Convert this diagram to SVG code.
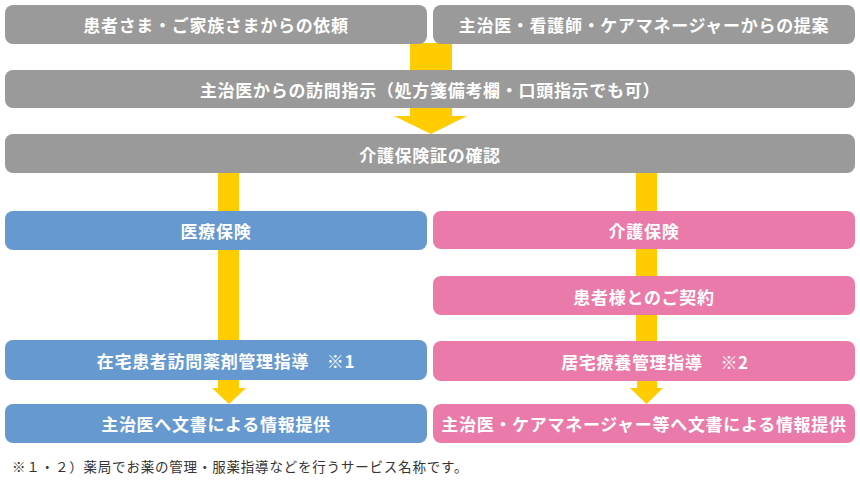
<svg xmlns="http://www.w3.org/2000/svg" width="860" height="480" viewBox="0 0 860 480">
<style>
.g{fill:#9a9a9a}
.b{fill:#6699d0}
.p{fill:#e97aa9}
.y{fill:#ffcc00}
.t{font-family:"Noto Sans CJK JP","Noto Sans",sans-serif;font-size:17px;font-weight:bold;fill:#fff;text-anchor:middle;dominant-baseline:central;letter-spacing:0.7px}
.f{font-family:"Noto Sans CJK JP","Noto Sans",sans-serif;font-size:13.5px;fill:#333;dominant-baseline:central;letter-spacing:0.8px}
</style>
<rect width="860" height="480" fill="#fff"/>
<g id="connectors">
<rect class="y" x="410" y="43" width="42" height="28"/>
<rect class="y" x="410" y="107" width="42" height="10"/>
<polygon class="y" points="394,116 467,116 431,134"/>
<rect class="y" x="218" y="172" width="21" height="40"/>
<rect class="y" x="636" y="172" width="21" height="40"/>
<rect class="y" x="218" y="249" width="21" height="92"/>
<rect class="y" x="636" y="248" width="21" height="29"/>
<rect class="y" x="636" y="314" width="21" height="28"/>
<rect class="y" x="218" y="379" width="21" height="10"/>
<polygon class="y" points="212,388 246,388 229,404"/>
<rect class="y" x="637" y="380" width="20" height="9"/>
<polygon class="y" points="630,388 663,388 646.5,404"/>
</g>
<g id="n1"><rect class="g" x="5" y="5" width="422" height="39" rx="8"/><text class="t" x="216" y="24.5">患者さま・ご家族さまからの依頼</text></g>
<g id="n2"><rect class="g" x="433" y="5" width="422" height="39" rx="8"/><text class="t" x="644" y="24.5">主治医・看護師・ケアマネージャーからの提案</text></g>
<g id="n3"><rect class="g" x="5" y="70" width="850" height="38" rx="8"/><text class="t" x="430" y="89">主治医からの訪問指示（処方箋備考欄・口頭指示でも可）</text></g>
<g id="n4"><rect class="g" x="5" y="134" width="850" height="39" rx="8"/><text class="t" x="430" y="154.5">介護保険証の確認</text></g>
<g id="n5"><rect class="b" x="5" y="211" width="422" height="39" rx="8"/><text class="t" x="216" y="230.5">医療保険</text></g>
<g id="n6"><rect class="p" x="433" y="211" width="422" height="38" rx="8"/><text class="t" x="644" y="230">介護保険</text></g>
<g id="n7"><rect class="p" x="433" y="276" width="422" height="39" rx="8"/><text class="t" x="644" y="296">患者様とのご契約</text></g>
<g id="n8"><rect class="b" x="5" y="340" width="422" height="40" rx="8"/><text class="t" x="226" y="360" xml:space="preserve">在宅患者訪問薬剤管理指導　※1</text></g>
<g id="n9"><rect class="p" x="433" y="341" width="422" height="40" rx="8"/><text class="t" x="655" y="361" xml:space="preserve">居宅療養管理指導　※2</text></g>
<g id="n10"><rect class="b" x="5" y="404" width="422" height="39" rx="8"/><text class="t" x="216" y="423.5">主治医へ文書による情報提供</text></g>
<g id="n11"><rect class="p" x="433" y="404" width="422" height="39" rx="8"/><text class="t" x="644" y="423.5">主治医・ケアマネージャー等へ文書による情報提供</text></g>
<text class="f" x="12" y="466">※１・２）薬局でお薬の管理・服薬指導などを行うサービス名称です。</text>
</svg>
